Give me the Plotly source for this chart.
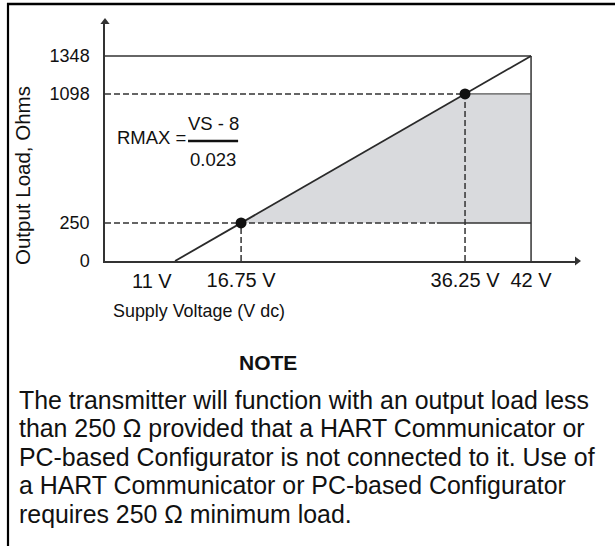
import plotly.graph_objects as go

# ---------------- data ----------------
supply_v = [11, 16.75, 36.25, 42]          # volts (x tick positions)
supply_labels = ["11 V", "16.75 V", "36.25 V", "42 V"]
load_ohm = [0, 250, 1098, 1348]            # ohms (y tick positions)
load_labels = ["0", "250", "1098", "1348"]
op_v = [16.75, 36.25]                      # operating-region corner points
op_ohm = [250, 1098]
line_v = [11, 42]                          # RMAX = (VS - 8)/0.023 line ends
line_ohm = [0, 1348]
dash_break_v = 33.8                        # where the 250 line turns solid

note_lines = [
    "The transmitter will function with an output load less",
    "than 250 \u03a9 provided that a HART Communicator or",
    "PC-based Configurator is not connected to it. Use of",
    "a HART Communicator or PC-based Configurator",
    "requires 250 \u03a9 minimum load.",
]

# ---------------- layout geometry ----------------
W, H = 615, 546
ML, MR, MT, MB = 105, 38, 22, 285
PW, PH = W - ML - MR, H - MT - MB
X0, X1 = 4.90, 46.0
Y0, Y1 = 0, 1571

def px(x):   # pixel -> paper x
    return (x - ML) / PW

def py(y):   # pixel -> paper y
    return (H - MB - y) / PH

FONT = "Liberation Sans, Arial, Helvetica, sans-serif"
LC = "#333333"
TC = "#111111"

fig = go.Figure()

# gray operating region
fig.add_trace(go.Scatter(
    x=[op_v[0], op_v[1], supply_v[3], supply_v[3], op_v[0]],
    y=[op_ohm[0], op_ohm[1], op_ohm[1], op_ohm[0], op_ohm[0]],
    fill="toself", fillcolor="#d9dadd", mode="lines",
    line=dict(width=0), hoverinfo="skip", showlegend=False))

def seg(xs, ys, dash="solid", width=1.5, color=LC):
    fig.add_trace(go.Scatter(x=xs, y=ys, mode="lines",
                             line=dict(color=color, width=width, dash=dash),
                             hoverinfo="skip", showlegend=False, cliponaxis=False))

# solid frame lines
seg([X0, supply_v[3]], [load_ohm[3], load_ohm[3]])
seg([supply_v[3], supply_v[3]], [0, load_ohm[3]])
seg([dash_break_v, supply_v[3]], [load_ohm[1], load_ohm[1]])
seg([op_v[1], supply_v[3]], [op_ohm[1], op_ohm[1]], width=1.2, color="#555555")

# dashed guide lines
DASH = "6px,3px"
seg([X0, op_v[1]], [op_ohm[1], op_ohm[1]], dash=DASH)
seg([X0, dash_break_v], [op_ohm[0], op_ohm[0]], dash=DASH)
seg([op_v[0], op_v[0]], [0, op_ohm[0]], dash=DASH)
seg([op_v[1], op_v[1]], [0, op_ohm[1]], dash=DASH)

# RMAX line
seg(line_v, line_ohm, width=1.8, color="#2a2a2a")

# operating points
fig.add_trace(go.Scatter(x=op_v, y=op_ohm, mode="markers",
                         marker=dict(size=11, color=TC),
                         hoverinfo="skip", showlegend=False))

# axis arrowheads
fig.add_trace(go.Scatter(x=[X1], y=[0], mode="markers", cliponaxis=False,
                         marker=dict(symbol="triangle-right", size=8, color=LC),
                         hoverinfo="skip", showlegend=False))
fig.add_trace(go.Scatter(x=[X0], y=[Y1], mode="markers", cliponaxis=False,
                         marker=dict(symbol="triangle-up", size=8, color=LC),
                         hoverinfo="skip", showlegend=False))

# x tick labels: the first one sits left of its tick in the reference
fig.update_xaxes(range=[X0, X1], showgrid=False, zeroline=False,
                 showline=True, linecolor=LC, linewidth=1.5,
                 tickvals=supply_v[1:], ticktext=supply_labels[1:], ticks="",
                 tickangle=0, ticklabelstandoff=0,
                 tickfont=dict(family=FONT, size=20, color=TC))
fig.update_yaxes(range=[Y0, Y1], showgrid=False, zeroline=False,
                 showline=True, linecolor=LC, linewidth=1.5,
                 tickvals=load_ohm, ticktext=load_labels, ticks="",
                 ticklabelstandoff=10,
                 tickfont=dict(family=FONT, size=18, color=TC))

ann = []
ann.append(dict(x=supply_v[0], y=0, text=supply_labels[0], xanchor="center",
                yanchor="top", xshift=-23, yshift=-7, showarrow=False,
                font=dict(family=FONT, size=20, color=TC)))
# formula
ann.append(dict(x=12.1, y=809, text="RMAX =", xanchor="right", yanchor="middle",
                showarrow=False, font=dict(family=FONT, size=18.5, color=TC)))
ann.append(dict(x=14.31, y=907, text="VS - 8", xanchor="center", yanchor="middle",
                showarrow=False, font=dict(family=FONT, size=18.5, color=TC)))
ann.append(dict(x=14.31, y=664, text="0.023", xanchor="center", yanchor="middle",
                showarrow=False, font=dict(family=FONT, size=18.5, color=TC)))
# axis captions
ann.append(dict(x=46.9, y=0, text="Ub", xanchor="left", yanchor="middle",
                showarrow=False, font=dict(family=FONT, size=20, color=TC)))
ann.append(dict(xref="paper", yref="paper", x=px(111), y=py(311),
                text="Supply Voltage (V dc)", xanchor="left", yanchor="middle",
                showarrow=False, font=dict(family=FONT, size=17.9, color=TC)))
ann.append(dict(xref="paper", yref="paper", x=px(22), y=py(176),
                text="Output Load, Ohms", textangle=-90, xanchor="center",
                yanchor="middle", showarrow=False,
                font=dict(family=FONT, size=20.5, color=TC)))
# note
ann.append(dict(xref="paper", yref="paper", x=px(268), y=py(362),
                text="<b>NOTE</b>", xanchor="center", yanchor="middle",
                showarrow=False, font=dict(family=FONT, size=21, color=TC)))
for i, t in enumerate(note_lines):
    ann.append(dict(xref="paper", yref="paper", x=px(17), y=py(400 + 28.4 * i),
                    text=t, xanchor="left", yanchor="middle", showarrow=False,
                    font=dict(family=FONT, size=24.9, color=TC)))

shapes = [
    # fraction bar
    dict(type="line", x0=12.13, x1=16.49, y0=789, y1=789,
         line=dict(color=TC, width=2.5)),
    # page frame
    dict(type="line", xref="paper", yref="paper", x0=px(7), x1=px(615),
         y0=py(4), y1=py(4), line=dict(color="#000000", width=2.5)),
    dict(type="line", xref="paper", yref="paper", x0=px(8), x1=px(8),
         y0=py(3), y1=py(546), line=dict(color="#000000", width=2.2)),
]

fig.update_layout(width=W, height=H, margin=dict(l=ML, r=MR, t=MT, b=MB),
                  paper_bgcolor="white", plot_bgcolor="white",
                  annotations=ann, shapes=shapes, showlegend=False,
                  font=dict(family=FONT))

fig.write_html("out.html", config={"displayModeBar": False},
               post_script="document.body.style.margin='0';"
                           "document.body.style.overflow='hidden';")
